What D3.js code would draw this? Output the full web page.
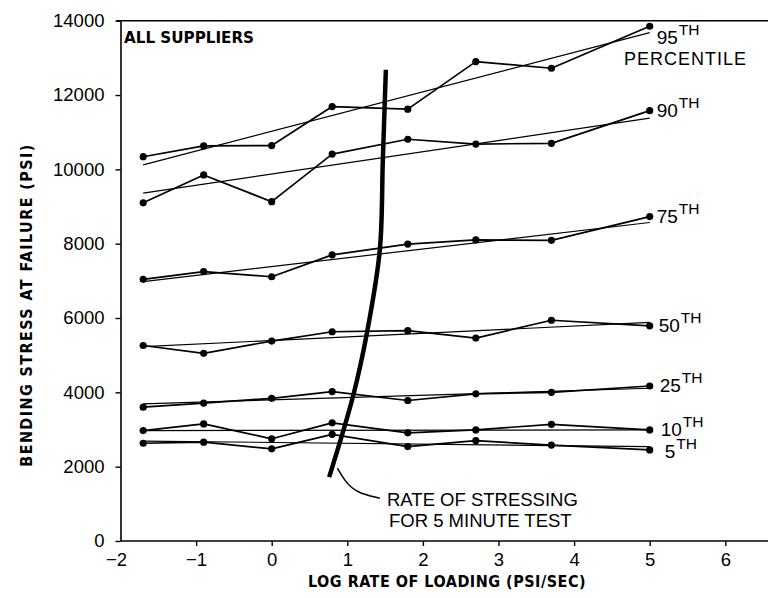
<!DOCTYPE html>
<html>
<head>
<meta charset="utf-8">
<script src="https://cdn.jsdelivr.net/npm/d3@7"></script>
<style>
  html, body { margin: 0; padding: 0; background: #fff; }
  svg { display: block; }
</style>
</head>
<body>
<svg id="chart" width="768" height="598"></svg>
<script>
// Log rate of loading (psi/sec) at which each percentile was measured
const loadRates = [-1.7, -0.9, 0, 0.8, 1.8, 2.7, 3.7, 5.0];

// Percentile names and measured bending stress at failure (psi)
const percentiles = ["95", "90", "75", "50", "25", "10", "5"];
const p95 = [10340, 10630, 10640, 11690, 11620, 12900, 12720, 13850];
const p90 = [9100, 9850, 9130, 10410, 10810, 10680, 10700, 11580];
const p75 = [7040, 7250, 7110, 7700, 7990, 8100, 8090, 8730];
const p50 = [5260, 5050, 5380, 5630, 5660, 5460, 5940, 5790];
const p25 = [3600, 3710, 3840, 4020, 3780, 3960, 4000, 4170];
const p10 = [2970, 3150, 2750, 3180, 2910, 2990, 3140, 2990];
const p5  = [2630, 2660, 2480, 2870, 2540, 2700, 2580, 2450];

// Fitted straight lines: stress at the first and last loading rate
const fitStart = [10120, 9360, 6980, 5230, 3690, 2970, 2690];
const fitEnd   = [13680, 11380, 8570, 5880, 4110, 2990, 2540];

// Rate of stressing for a 5 minute test: [log rate, stress]
const rateCurve = [[0.76, 1720], [1.08, 3930], [1.26, 5600], [1.43, 7830], [1.47, 10250], [1.51, 12680]];
// Leader from the curve to its note: [log rate, stress]
const leaderPts = [[0.87, 1960], [0.97, 1600], [1.12, 1300], [1.43, 1150]];

// Axis ticks
const xTicks = [-2, -1, 0, 1, 2, 3, 4, 5, 6];
const yTicks = [0, 2000, 4000, 6000, 8000, 10000, 12000, 14000];

const series = [p95, p90, p75, p50, p25, p10, p5];

const svg = d3.select("#chart");
const plotLeft = 120.5, plotTop = 20.7, plotBottom = 541;
const x = d3.scaleLinear().domain([-2, 6.6]).range([plotLeft, plotLeft + 8.6 * 75.6]);
const y = d3.scaleLinear().domain([0, 14000]).range([plotBottom, plotTop]);

const numFont = "'Liberation Sans', Arial, sans-serif";
const titleFont = "'DejaVu Sans Condensed', 'DejaVu Sans', sans-serif";

// Frame: top edge
svg.append("line")
  .attr("x1", plotLeft - 4).attr("x2", 768)
  .attr("y1", y(14000)).attr("y2", y(14000))
  .attr("stroke", "#000").attr("stroke-width", 1.6);

// Y axis
const yAxis = svg.append("g")
  .attr("transform", `translate(${plotLeft},0)`)
  .call(d3.axisLeft(y).tickValues(yTicks).tickSize(5).tickSizeOuter(0).tickPadding(11)
    .tickFormat(d3.format("d")));
// X axis
const xAxis = svg.append("g")
  .attr("transform", `translate(0,${plotBottom})`)
  .call(d3.axisBottom(x).tickValues(xTicks.filter(d => d > -2)).tickSize(5).tickSizeOuter(0).tickPadding(7));
xAxis.select(".domain").attr("d", `M${plotLeft},0H768`);
// the -2 label sits under the corner
xAxis.append("text")
  .attr("x", x(-2) - 4).attr("y", 12).attr("dy", "0.71em")
  .attr("text-anchor", "middle").attr("fill", "#000").text("\u22122");

[yAxis, xAxis].forEach(g => {
  g.selectAll(".domain").attr("stroke", "#000").attr("stroke-width", 1.6);
  g.selectAll(".tick line").attr("stroke", "#000").attr("stroke-width", 1.4);
  g.selectAll("text").attr("font-family", numFont).attr("font-size", 18.5).attr("fill", "#000");
});

// Axis titles
svg.append("text")
  .attr("x", 447).attr("y", 587)
  .attr("text-anchor", "middle")
  .attr("font-family", titleFont).attr("font-weight", "bold").attr("font-size", 16)
  .attr("letter-spacing", 0.5)
  .text("LOG RATE OF LOADING (PSI/SEC)");
svg.append("text")
  .attr("transform", "translate(32,305) rotate(-90)")
  .attr("text-anchor", "middle")
  .attr("font-family", titleFont).attr("font-weight", "bold").attr("font-size", 16)
  .attr("letter-spacing", 1.4)
  .text("BENDING STRESS AT FAILURE   (PSI)");

svg.append("text")
  .attr("x", 124).attr("y", 43)
  .attr("font-family", titleFont).attr("font-weight", "bold").attr("font-size", 16)
  .attr("textLength", 130).attr("lengthAdjust", "spacingAndGlyphs")
  .text("ALL SUPPLIERS");

// Fitted lines
const plot = svg.append("g");
series.forEach((vals, i) => {
  plot.append("line")
    .attr("x1", x(loadRates[0])).attr("y1", y(fitStart[i]))
    .attr("x2", x(loadRates[loadRates.length - 1])).attr("y2", y(fitEnd[i]))
    .attr("stroke", "#000").attr("stroke-width", 1.2);
});

// Measured percentile lines with points
const line = d3.line().x((d, j) => x(loadRates[j])).y(d => y(d));
series.forEach(vals => {
  plot.append("path")
    .attr("d", line(vals))
    .attr("fill", "none").attr("stroke", "#000").attr("stroke-width", 1.7)
    .attr("stroke-linejoin", "round");
  plot.selectAll(null).data(vals).enter().append("circle")
    .attr("cx", (d, j) => x(loadRates[j])).attr("cy", d => y(d))
    .attr("r", 3.6).attr("fill", "#000");
});

// Percentile labels at the right end of each line
const labelShift = { "95": 18, "90": 6, "75": 6, "50": 6, "25": 6, "10": 6, "5": 8 };
const labelDx = { "95": 7, "90": 7, "75": 7, "50": 9, "25": 10, "10": 11, "5": 15 };
percentiles.forEach((p, i) => {
  const vals = series[i];
  const last = vals[vals.length - 1];
  const t = svg.append("text")
    .attr("x", x(loadRates[loadRates.length - 1]) + labelDx[p])
    .attr("y", y(last) + labelShift[p])
    .attr("font-family", numFont).attr("fill", "#000");
  t.append("tspan").attr("font-size", 19).text(p);
  t.append("tspan").attr("font-size", 15.5).attr("dy", -9).attr("dx", 1).text("TH");
});
svg.append("text")
  .attr("x", 624).attr("y", 65)
  .attr("font-family", numFont).attr("font-size", 18).attr("letter-spacing", 1)
  .text("PERCENTILE");

// Rate of stressing for a 5 minute test
svg.append("path")
  .attr("d", d3.line().curve(d3.curveCatmullRom.alpha(0.5))
    .x(d => x(d[0])).y(d => y(d[1]))(rateCurve))
  .attr("fill", "none").attr("stroke", "#000").attr("stroke-width", 4.5);

svg.append("path")
  .attr("d", d3.line().curve(d3.curveBasis)
    .x(d => x(d[0])).y(d => y(d[1]))(leaderPts))
  .attr("fill", "none").attr("stroke", "#000").attr("stroke-width", 1.5);

const note = svg.append("text")
  .attr("font-family", numFont).attr("font-size", 18.5).attr("fill", "#000");
note.append("tspan").attr("x", 387).attr("y", 506).text("RATE OF STRESSING");
note.append("tspan").attr("x", 389).attr("y", 527).text("FOR 5 MINUTE TEST");
</script>
</body>
</html>
